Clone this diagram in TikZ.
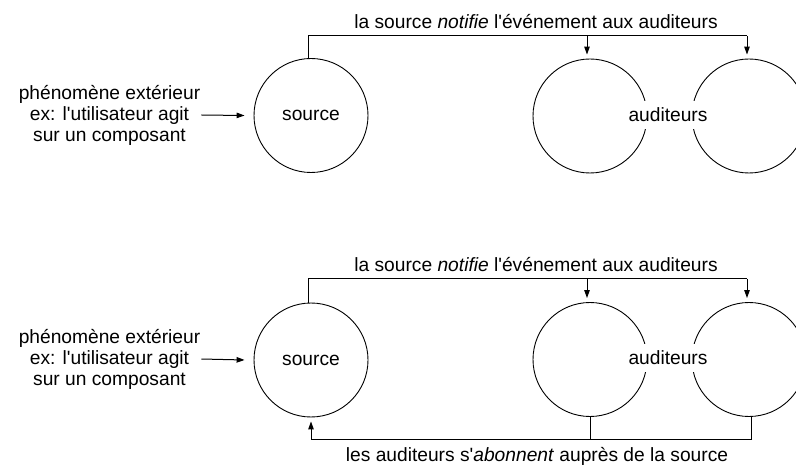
\documentclass[tikz,border=0pt]{standalone}
\usepackage{fontspec}
\setmainfont{Liberation Sans}[Ligatures=TeXOff]
\usetikzlibrary{arrows.meta,calc}
\begin{document}
\begin{tikzpicture}[x=1pt,y=-1pt,
  bubble/.style={circle,draw,line width=0.9pt,minimum size=114pt,inner sep=0pt,font=\fontsize{19.2}{21}\selectfont},
  lbl/.style={font=\fontsize{19.2}{21}\selectfont,inner sep=0pt},
  conn/.style={line width=1pt},
  arr/.style={conn,-{Stealth[length=8pt,width=5.5pt,inset=0pt]}}]
\useasboundingbox (0,0) rectangle (796,465);
\clip (0,0) rectangle (796,465);

% ---------- top diagram ----------
\node[bubble] (s1) at (311,115.5) {source};
\node[bubble] (a1) at (590,116) {};
\node[bubble] (b1) at (749,116) {};
\node[lbl,fill=white,inner sep=7pt,anchor=base] (aud1) at (668,121.5) {auditeurs};
\node[lbl,align=center] (ext1) at (109.5,115) {phénomène extérieur\\ex: l'utilisateur agit\\sur un composant};
\node[lbl,anchor=base] (not1) at (536,28.5) {la source \textit{notifie} l'événement aux auditeurs};

\coordinate (n1) at (0,36);
\coordinate (ps1) at ($(s1.north)+(-3,0)$);
\coordinate (pa1) at ($(a1.north)+(-3,-4)$);
\coordinate (pb1) at ($(b1.north)+(-2,-4)$);
\draw[conn] (ps1) |- (pb1 |- n1);
\draw[arr] (pa1 |- n1) -- (pa1);
\draw[arr] (pb1 |- n1) -- (pb1);
\draw[arr] ($(ext1.east)+(1,0)$) -- ($(s1.west)+(-9,0)$);

% ---------- bottom diagram ----------
\node[bubble] (s2) at (311,360) {source};
\node[bubble] (a2) at (590,359.5) {};
\node[bubble] (b2) at (749,359.5) {};
\node[lbl,fill=white,inner sep=7pt,anchor=base] (aud2) at (668,365) {auditeurs};
\node[lbl,align=center] (ext2) at (109.5,359) {phénomène extérieur\\ex: l'utilisateur agit\\sur un composant};
\node[lbl,anchor=base] (not2) at (536,271.5) {la source \textit{notifie} l'événement aux auditeurs};
\node[lbl,anchor=base] (abo2) at (537,461.5) {les auditeurs s'\textit{abonnent} auprès de la source};

\coordinate (n2) at (0,279);
\coordinate (f2) at (0,439);
\coordinate (ps2) at ($(s2.north)+(-3,0)$);
\coordinate (pa2) at ($(a2.north)+(-3,-4)$);
\coordinate (pb2) at ($(b2.north)+(-2,-4)$);
\draw[conn] (ps2) |- (pb2 |- n2);
\draw[arr] (pa2 |- n2) -- (pa2);
\draw[arr] (pb2 |- n2) -- (pb2);
\draw[arr] ($(ext2.east)+(1,0)$) -- ($(s2.west)+(-9,0)$);

\coordinate (qs2) at ($(s2.south)+(0,4)$);
\coordinate (qb2) at ($(b2.south)+(2,0)$);
\draw[arr] (qb2) |- (qs2 |- f2) -- (qs2);
\draw[conn] (a2.south) -- (a2.south |- f2);
\end{tikzpicture}
\end{document}
